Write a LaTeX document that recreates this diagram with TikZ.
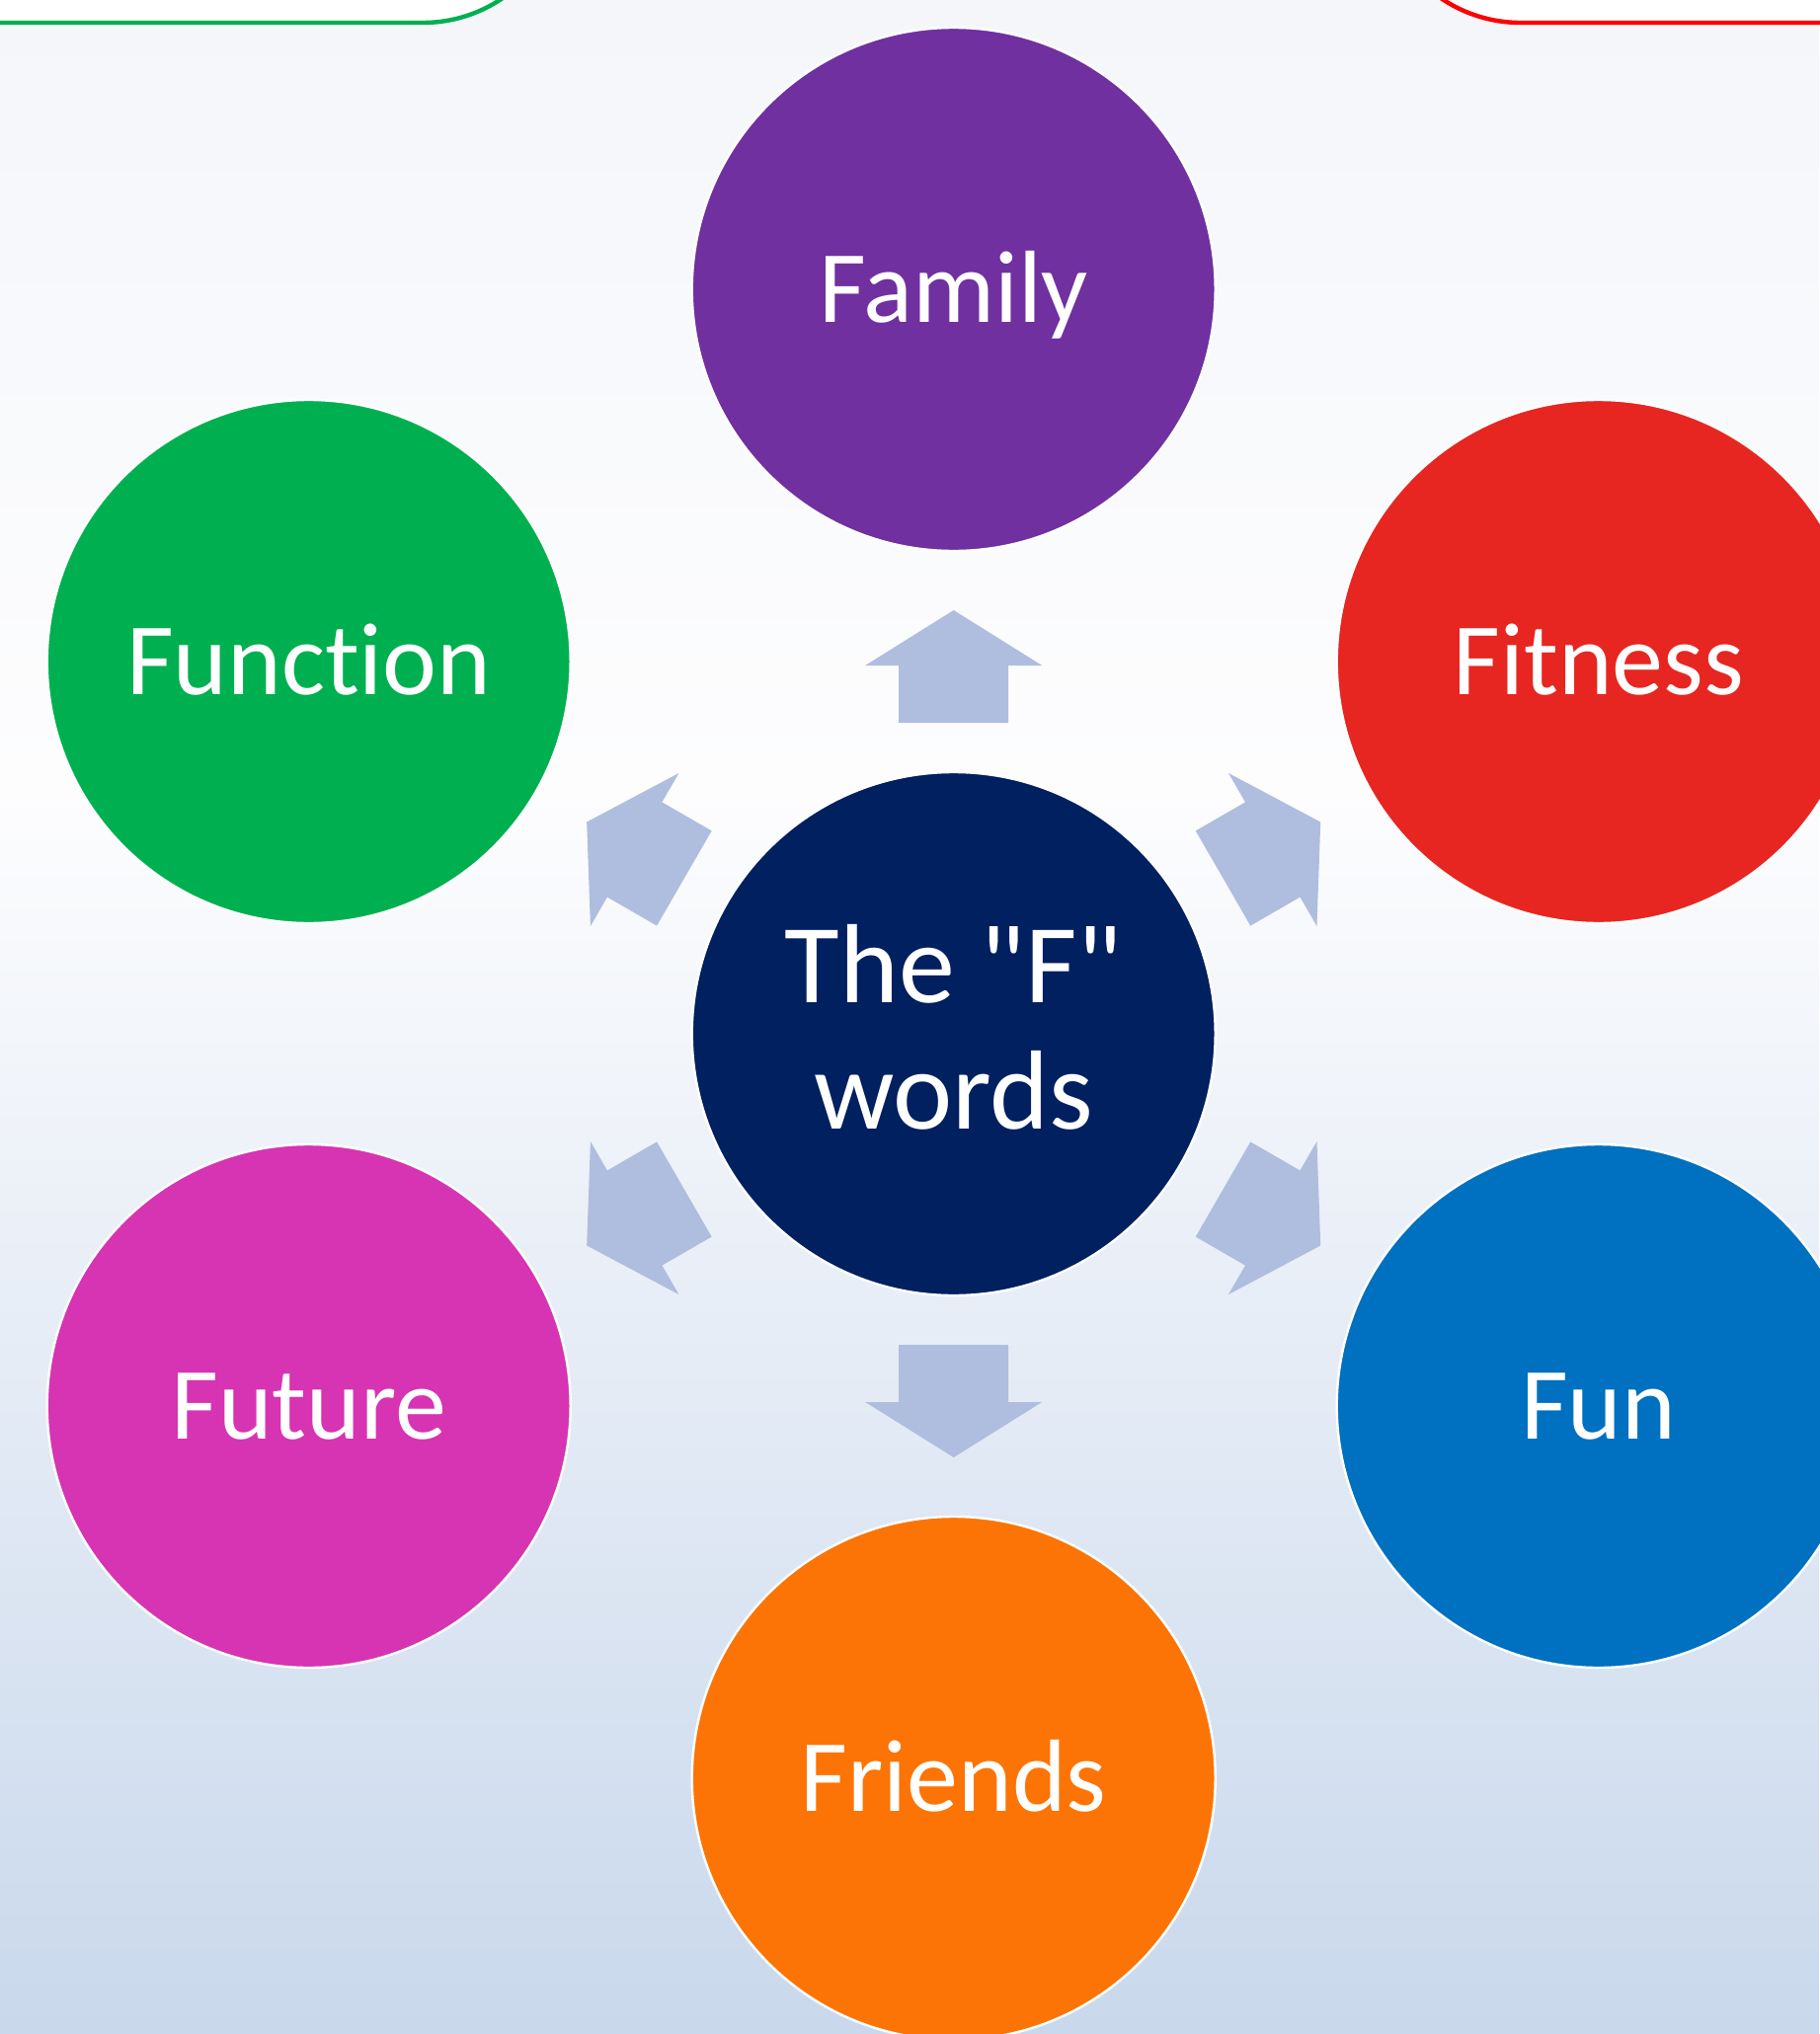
\documentclass[tikz,border=0pt]{standalone}
\usepackage{fontspec}
\setmainfont{Carlito}[Ligatures={TeXOff,CommonOff}]
\definecolor{bgtop}{HTML}{F4F6FA}
\definecolor{bgmid}{HTML}{FDFDFE}
\definecolor{bgbot}{HTML}{C9D8EC}
\definecolor{cfamily}{HTML}{7030A0}
\definecolor{cfunction}{HTML}{00B050}
\definecolor{cfitness}{HTML}{E72621}
\definecolor{cfun}{HTML}{0070C0}
\definecolor{cfuture}{HTML}{D634B2}
\definecolor{cfriends}{HTML}{FC7405}
\definecolor{ccenter}{HTML}{002060}
\definecolor{carrow}{HTML}{AFBDDF}
\definecolor{cgreenline}{HTML}{00B050}
\definecolor{credline}{HTML}{FF0000}
\tikzset{
  fcircle/.style={circle, minimum size=265pt, inner sep=0pt, draw=white, line width=1.2pt,
    text=white, font=\fontsize{52}{62}\selectfont, text height=33pt, text depth=0pt},
  ctext/.style={text=white, font=\fontsize{57}{63.5}\selectfont, anchor=base, inner sep=0pt},
  corner/.style={fill=white, line width=2.2pt, rounded corners=72pt},
  blockarrow/.style={fill=carrow},
}
\begin{document}
\begin{tikzpicture}[x=0.5pt,y=-0.5pt]
\useasboundingbox (0,0) rectangle (1842,2060);
\shade[top color=bgtop, bottom color=bgmid] (0,0) rectangle (1842,801);
\shade[top color=bgmid, bottom color=bgbot] (0,800) rectangle (1842,2060);
% partial boxes at the top
\draw[corner, draw=cgreenline] (-300,-400) rectangle (572,23);
\draw[corner, draw=credline] (1396,-400) rectangle (2200,23);
% centre
\node[fcircle, fill=ccenter] (ctr) at (965.7,1047) {};
\node[ctext] (ct1) at (965.7,1015) {The "F"};
\node[ctext] (ct2) at (965.7,1143) {words};
% outer circles
\node[fcircle, fill=cfamily]   (family)   at (965.7,293)  {Family};
\node[fcircle, fill=cfunction] (function) at (312.7,670)  {Function};
\node[fcircle, fill=cfitness]  (fitness)  at (1618.7,670) {Fitness};
\node[fcircle, fill=cfuture]   (future)   at (312.7,1424) {Future};
\node[fcircle, fill=cfun]      (fun)      at (1618.7,1424) {Fun};
\node[fcircle, fill=cfriends]  (friends)  at (965.7,1801) {Friends};
% block arrows
\foreach \a in {0,60,120,180,240,300}
  \fill[blockarrow, shift={(ctr.center)}, rotate=\a]
    (0,-429) -- (89.5,-373) -- (55.5,-373) -- (55.5,-315) -- (-55.5,-315)
    -- (-55.5,-373) -- (-89.5,-373) -- cycle;
\end{tikzpicture}
\end{document}
